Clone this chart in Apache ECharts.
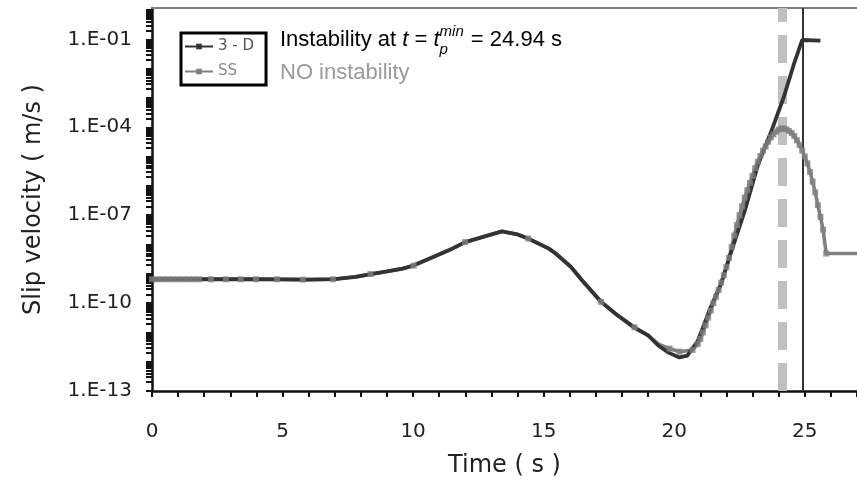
<!DOCTYPE html>
<html>
<head>
<meta charset="utf-8">
<script src="https://cdn.jsdelivr.net/npm/echarts@6/dist/echarts.min.js"></script>
<style>
html,body{margin:0;padding:0;background:#fff;}
#chart{width:857px;height:486px;}
</style>
</head>
<body>
<div id="chart"></div>
<script>
// ---- data ----
const seriesNames = ['3 - D', 'SS'];
const time3D = [0, 2, 4, 6, 7, 7.8, 8.4, 9, 9.6, 10, 10.7, 11.5, 12, 12.75, 13.4, 14, 14.4, 15.2, 15.45, 16.05, 16.45, 17.2, 17.8, 18.5, 19, 19.4, 19.8, 20.2, 20.5, 20.9, 21.4, 21.8, 22.2, 22.7, 23.2, 23.76, 24.2, 24.59, 24.9, 25.6];
const vel3D = [6.5e-10, 6.5e-10, 6.5e-10, 6.3e-10, 6.6e-10, 7.9e-10, 9.8e-10, 1.2e-9, 1.5e-9, 1.9e-9, 3.5e-9, 7.2e-9, 1.2e-8, 1.9e-8, 2.8e-8, 2.2e-8, 1.6e-8, 7.2e-9, 5.0e-9, 1.7e-9, 6.3e-10, 1.1e-10, 4.0e-11, 1.4e-11, 7.9e-12, 3.5e-12, 2.0e-12, 1.4e-12, 1.6e-12, 5.0e-12, 7.4e-11, 4.7e-10, 6.3e-9, 1.4e-7, 5.0e-6, 9.1e-5, 1.1e-3, 1.5e-2, 9.5e-2, 9.1e-2];
const timeSS = [0, 0.2, 0.4, 0.6, 0.8, 1.0, 1.2, 1.4, 1.6, 1.8, 2.26, 2.83, 3.4, 3.98, 4.79, 5.78, 6.93, 7.8, 8.37, 9, 9.6, 10.02, 10.7, 11.5, 11.99, 12.75, 13.4, 14, 14.41, 15.2, 15.45, 16.05, 16.45, 17.2, 17.8, 18.48, 19, 19.4, 19.82, 20.2, 20.7,
  20.9, 21.0, 21.1, 21.2, 21.3, 21.4, 21.5, 21.6, 21.7, 21.8, 21.9, 22.0, 22.1, 22.2, 22.3, 22.4, 22.5, 22.6, 22.7, 22.8, 22.9, 23.0, 23.1, 23.2, 23.3, 23.4, 23.5, 23.6, 23.7, 23.8, 23.9, 24.0, 24.1, 24.2, 24.3, 24.4, 24.5, 24.6, 24.7, 24.8, 24.9, 25.0, 25.1, 25.2, 25.3, 25.4, 25.5, 25.6, 25.7, 25.82, 27.0];
const velSS = [6.5e-10, 6.5e-10, 6.5e-10, 6.5e-10, 6.5e-10, 6.5e-10, 6.5e-10, 6.5e-10, 6.5e-10, 6.5e-10, 6.5e-10, 6.5e-10, 6.5e-10, 6.5e-10, 6.5e-10, 6.3e-10, 6.5e-10, 7.9e-10, 9.8e-10, 1.2e-9, 1.5e-9, 1.9e-9, 3.5e-9, 7.2e-9, 1.2e-8, 1.9e-8, 2.8e-8, 2.2e-8, 1.6e-8, 7.2e-9, 5.0e-9, 1.7e-9, 6.3e-10, 1.1e-10, 4.0e-11, 1.5e-11, 7.9e-12, 4.0e-12, 2.8e-12, 2.2e-12, 2.5e-12,
  4.0e-12, 6.0e-12, 1.0e-11, 1.74e-11, 3.2e-11, 5.6e-11, 1.0e-10, 1.66e-10, 2.8e-10, 5.0e-10, 8.9e-10, 1.7e-9, 3.5e-9, 8.3e-9, 2.0e-8, 4.6e-8, 1.0e-7, 2.0e-7, 4.0e-7, 7.1e-7, 1.26e-6, 2.2e-6, 4.0e-6, 6.6e-6, 1.05e-5, 1.6e-5, 2.2e-5, 3.2e-5, 4.5e-5, 5.75e-5, 7.1e-5, 8.3e-5, 9.1e-5, 9.1e-5, 8.5e-5, 7.4e-5, 6.3e-5, 5.0e-5, 3.6e-5, 2.5e-5, 1.6e-5, 1.0e-5, 5.9e-6, 3.0e-6, 1.4e-6, 6.0e-7, 2.2e-7, 8.7e-8, 3.2e-8, 4.9e-9, 4.9e-9];
// SS points that carry no visible marker in the reference
const ssUnmarkedTimes = [7.8, 9, 9.6, 10.7, 11.5, 12.75, 13.4, 14, 15.2, 15.45, 16.05, 16.45, 17.8, 19, 19.4, 27.0];
const xLabelValues = [0, 5, 10, 15, 20, 25];
const yLabelValues = [1e-13, 1e-10, 1e-7, 1e-4, 1e-1];
const tInstability = 24.94;   // solid vertical line
const tPeakSS = 24.14;        // dashed grey line
const xMin = 0, xMax = 27;
const yMin = 1e-13, yMax = 1.175;

// ---- build ----
const zip = (a, b) => a.map((v, i) => [v, b[i]]);
const ssPoints = zip(timeSS, velSS);
const ssMarkers = ssPoints.filter(p => !ssUnmarkedTimes.includes(p[0]));
const xTickValues = [];
for (let i = xMin; i <= xMax; i++) xTickValues.push(i);
const yTickValues = [];
for (let e = -13; e <= 0; e++) for (let k = 1; k <= 9; k++) { const v = k * Math.pow(10, e); if (v <= yMax) yTickValues.push(v); }

const FONT = 'Arial, "Liberation Sans", sans-serif';
const AXFONT = '"DejaVu Sans", Verdana, sans-serif';

// annotation layout (measured text widths)
const mctx = document.createElement('canvas').getContext('2d');
const tw = (s, size, italic) => { mctx.font = (italic ? 'italic ' : '') + size + 'px ' + FONT; return mctx.measureText(s).width; };
const A = 22, S = 15, ax = 280, ay = 29;
const parts = [];
let cx = ax;
const put = (s, size, italic, dy) => { parts.push({type: 'text', left: cx, top: ay + dy, style: {text: s, fontFamily: FONT, fontSize: size, fontStyle: italic ? 'italic' : 'normal', fill: '#000'}}); };
put('Instability at ', A, false, 0); cx += tw('Instability at ', A, false);
put('t', A, true, 0); cx += tw('t', A, true);
put(' = ', A, false, 0); cx += tw(' = ', A, false);
put('t', A, true, 0); cx += tw('t', A, true);
put('p', S, true, 13);
put('min', S, true, -5); cx += Math.max(tw('p', S, true), tw('min', S, true)) + 1;
put(' = 24.94 s', A, false, 0);
parts.push({type: 'text', left: ax, top: 62, style: {text: 'NO instability', fontFamily: FONT, fontSize: A, fill: '#9a9a9a'}});

const chart = echarts.init(document.getElementById('chart'), null, {renderer: 'canvas'});
chart.setOption({
  animation: false,
  backgroundColor: '#ffffff',
  grid: {left: 152, right: -3, top: 8, bottom: 95},
  legend: {
    data: seriesNames,
    orient: 'vertical',
    left: 181, top: 33,
    padding: [6, 12, 6, 3],
    itemGap: 10,
    itemWidth: 28, itemHeight: 7,
    borderColor: '#000', borderWidth: 3,
    formatter: n => n === 'SS' ? '{g|' + n + '}' : '{d|' + n + '}',
    textStyle: {fontFamily: AXFONT, fontSize: 15, rich: {
      d: {color: '#555', fontSize: 15, fontFamily: AXFONT, lineHeight: 16},
      g: {color: '#888', fontSize: 15, fontFamily: AXFONT, lineHeight: 16}}}
  },
  xAxis: [{
    type: 'value', min: xMin, max: xMax, interval: 1,
    name: 'Time ( s )', nameLocation: 'middle', nameGap: 63,
    nameTextStyle: {fontFamily: AXFONT, fontSize: 24, color: '#222'},
    axisLine: {lineStyle: {color: '#111', width: 2.5}},
    axisTick: {show: true, length: 6, lineStyle: {color: '#111', width: 2}, customValues: xTickValues},
    axisLabel: {customValues: xLabelValues, fontFamily: AXFONT, fontSize: 20, color: '#222', margin: 31},
    splitLine: {show: false}
  }, {
    type: 'value', min: xMin, max: xMax, position: 'top',
    axisLine: {show: true, lineStyle: {color: '#808080', width: 2}},
    axisTick: {show: false}, axisLabel: {show: false}, splitLine: {show: false}
  }],
  yAxis: {
    type: 'log', logBase: 10, min: yMin, max: yMax,
    name: 'Slip velocity ( m/s )', nameLocation: 'middle', nameGap: 106, nameRotate: 90,
    nameTextStyle: {fontFamily: AXFONT, fontSize: 24, color: '#222'},
    axisLine: {show: true, lineStyle: {color: '#111', width: 2.5}},
    axisTick: {show: true, length: 6, lineStyle: {color: '#111', width: 2}, customValues: yTickValues},
    axisLabel: {customValues: yLabelValues, fontFamily: AXFONT, fontSize: 20, color: '#222', margin: 20,
      formatter: v => { const e = Math.round(Math.log10(v)); return '1.E' + (e < 0 ? '-' : '+') + String(Math.abs(e)).padStart(2, '0'); }},
    splitLine: {show: false}
  },
  series: [{
    name: '3 - D', type: 'line', xAxisIndex: 0, data: zip(time3D, vel3D),
    color: '#333333', z: 3,
    lineStyle: {color: '#333333', width: 3.8},
    symbol: 'rect', symbolSize: 4, showSymbol: false,
    itemStyle: {color: '#333333'},
    markLine: {
      silent: true, symbol: 'none', z: 1, label: {show: false},
      data: [
        {xAxis: tPeakSS, lineStyle: {color: '#c0c0c0', width: 9, type: [28, 13]}},
        {xAxis: tInstability, lineStyle: {color: '#333333', width: 2, type: 'solid'}}
      ]
    }
  }, {
    name: 'SS', type: 'line', xAxisIndex: 0, data: ssPoints,
    color: '#808080', z: 2,
    lineStyle: {color: '#808080', width: 3.6},
    symbol: 'rect', symbolSize: 5, showSymbol: false,
    itemStyle: {color: '#808080'}
  }, {
    name: 'SS', type: 'scatter', xAxisIndex: 0, data: ssMarkers,
    color: '#808080', z: 4,
    symbol: 'rect', symbolSize: 6,
    itemStyle: {color: '#808080'}
  }],
  graphic: parts
});
</script>
</body>
</html>
